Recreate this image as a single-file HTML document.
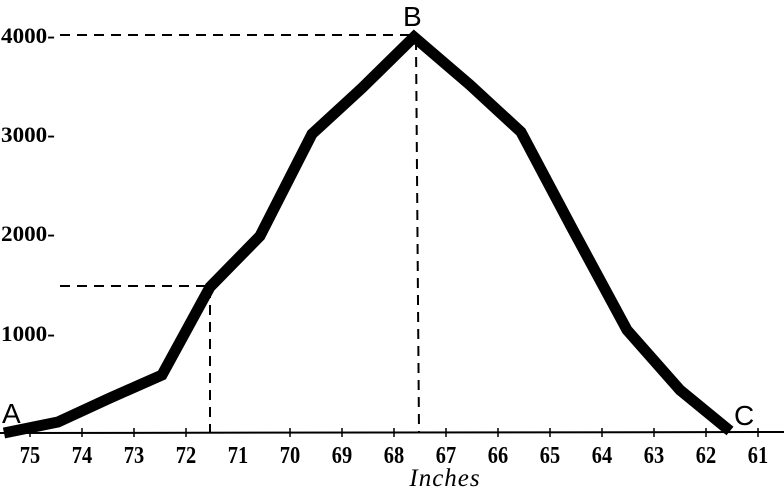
<!DOCTYPE html>
<html><head><style>
body{margin:0;background:#fff;}
svg{display:block}
text{font-family:"Liberation Serif",serif;font-weight:bold;fill:#000}
</style></head><body>
<svg width="784" height="491" viewBox="0 0 784 491">
<line x1="0" y1="433" x2="784" y2="432" stroke="#000" stroke-width="2"/>
<g stroke="#000" stroke-width="1.5">
<line x1="30" y1="428" x2="30" y2="437"/><line x1="82" y1="428" x2="82" y2="437"/>
<line x1="134" y1="428" x2="134" y2="437"/><line x1="186" y1="428" x2="186" y2="437"/>
<line x1="290" y1="428" x2="290" y2="437"/><line x1="342" y1="428" x2="342" y2="437"/>
<line x1="394" y1="428" x2="394" y2="437"/><line x1="446" y1="428" x2="446" y2="437"/>
<line x1="498" y1="428" x2="498" y2="437"/><line x1="550" y1="428" x2="550" y2="437"/>
<line x1="602" y1="428" x2="602" y2="437"/><line x1="654" y1="428" x2="654" y2="437"/>
<line x1="706" y1="428" x2="706" y2="437"/><line x1="758" y1="428" x2="758" y2="437"/>
</g>
<g stroke="#000" stroke-width="2" stroke-dasharray="10,7" fill="none">
<line x1="60" y1="35" x2="412" y2="35"/>
<line x1="416" y1="40" x2="419" y2="432"/>
<line x1="60" y1="286" x2="210" y2="286"/>
<line x1="210" y1="288" x2="210" y2="432"/>
</g>
<polyline points="4,433 58,422 110,398 162,375 210,287 260,236 312,134 362,88 414,37 470,85 521,132 573,230 627,330 680,390 730,431" fill="none" stroke="#000" stroke-width="11" stroke-linejoin="miter"/>
<g font-size="22" transform="scale(1.05,1)">
<text x="1" y="43">4000-</text><text x="1" y="142">3000-</text>
<text x="1" y="241">2000-</text><text x="1" y="341">1000-</text>
</g>
<g font-size="24" text-anchor="middle">
<text x="30" y="463" transform="translate(4.5,0) scale(0.85,1)">75</text>
<text x="82" y="463" transform="translate(12.3,0) scale(0.85,1)">74</text>
<text x="134" y="463" transform="translate(20.1,0) scale(0.85,1)">73</text>
<text x="186" y="463" transform="translate(27.9,0) scale(0.85,1)">72</text>
<text x="238" y="463" transform="translate(35.7,0) scale(0.85,1)">71</text>
<text x="290" y="463" transform="translate(43.5,0) scale(0.85,1)">70</text>
<text x="342" y="463" transform="translate(51.3,0) scale(0.85,1)">69</text>
<text x="394" y="463" transform="translate(59.1,0) scale(0.85,1)">68</text>
<text x="446" y="463" transform="translate(66.9,0) scale(0.85,1)">67</text>
<text x="498" y="463" transform="translate(74.7,0) scale(0.85,1)">66</text>
<text x="550" y="463" transform="translate(82.5,0) scale(0.85,1)">65</text>
<text x="602" y="463" transform="translate(90.3,0) scale(0.85,1)">64</text>
<text x="654" y="463" transform="translate(98.1,0) scale(0.85,1)">63</text>
<text x="706" y="463" transform="translate(105.9,0) scale(0.85,1)">62</text>
<text x="758" y="463" transform="translate(113.7,0) scale(0.85,1)">61</text>
</g>
<text x="445" y="486" font-size="25" font-style="italic" text-anchor="middle" style="font-weight:normal;letter-spacing:1px">Inches</text>
<text x="2" y="423" font-size="28" style="font-family:'Liberation Sans',sans-serif;font-weight:normal">A</text>
<text x="403" y="26" font-size="28" style="font-family:'Liberation Sans',sans-serif;font-weight:normal">B</text>
<text x="734" y="425" font-size="28" style="font-family:'Liberation Sans',sans-serif;font-weight:normal">C</text>
</svg>
</body></html>
